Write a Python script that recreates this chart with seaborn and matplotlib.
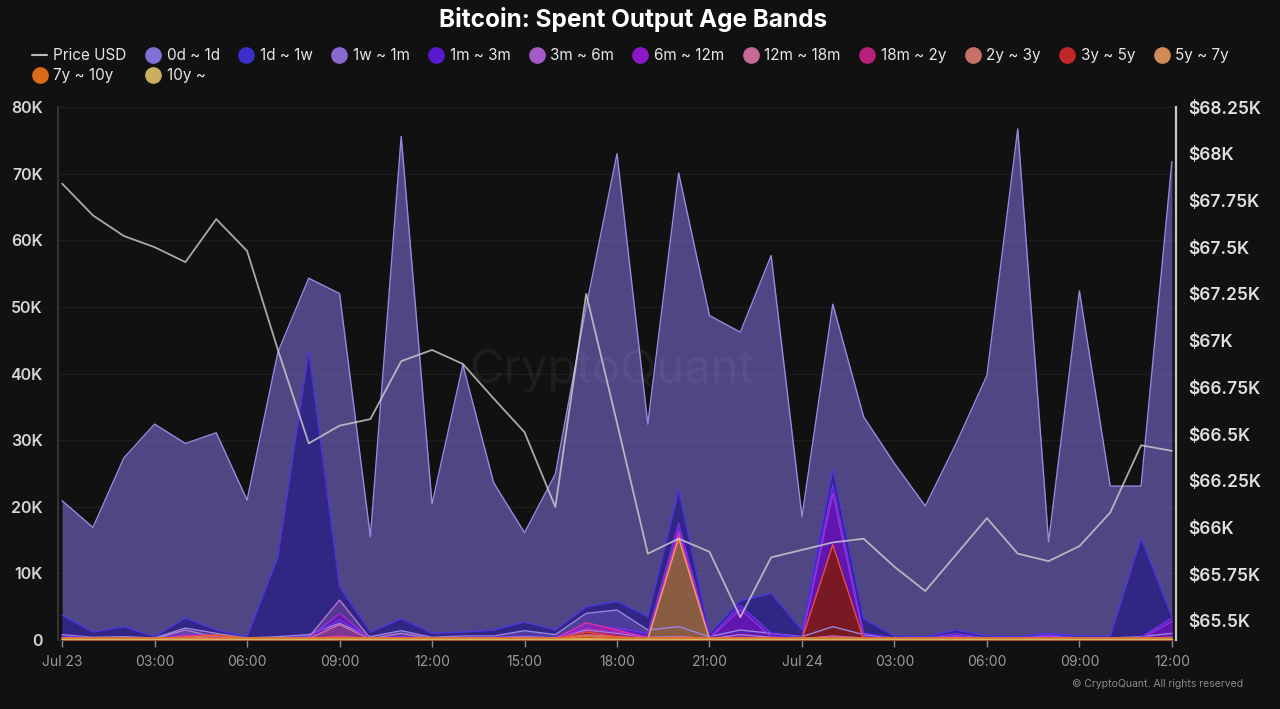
import pandas as pd
import matplotlib
matplotlib.use("Agg")
import matplotlib.pyplot as plt
from matplotlib.lines import Line2D
from matplotlib.ticker import FuncFormatter
import seaborn as sns

sns.set_theme(style="dark")
plt.rcParams['font.family'] = ['Inter', 'DejaVu Sans']

# hourly timestamps Jul 23 00:00 -> Jul 24 12:00
hours = pd.date_range("2024-07-23 00:00", periods=37, freq="h")

price_usd = [67840, 67670, 67560, 67500, 67420, 67650, 67480, 66950, 66450, 66545,
             66580, 66890, 66950, 66875, 66690, 66510, 66110, 67250, 66560, 65860,
             65940, 65870, 65520, 65840, 65880, 65920, 65940, 65790, 65660, 65855,
             66050, 65860, 65820, 65900, 66080, 66440, 66410]

# spent output per age band (thousand BTC)
band_0d_1d = [20.9, 16.9, 27.3, 32.4, 29.5, 31.1, 21.0, 43.2, 54.3, 52.0,
              15.5, 75.6, 20.4, 41.3, 23.6, 16.1, 24.9, 50.0, 73.0, 32.4,
              70.1, 48.7, 46.2, 57.7, 18.5, 50.4, 33.5, 26.5, 20.1, 29.5,
              39.7, 76.7, 14.7, 52.4, 23.1, 23.1, 71.8]
band_1d_1w = [3.7, 1.2, 2.0, 0.5, 3.3, 1.5, 0.5, 12.5, 43.4, 8.0,
              1.2, 3.2, 1.0, 1.2, 1.5, 2.7, 1.5, 5.0, 5.8, 3.5,
              22.5, 1.0, 5.9, 7.0, 1.5, 25.7, 3.2, 0.6, 0.5, 1.5,
              0.6, 0.5, 1.0, 0.6, 0.6, 15.3, 3.5]
band_1w_1m = [0.8, 0.4, 0.5, 0.3, 1.8, 1.0, 0.3, 0.5, 0.8, 2.5,
              0.5, 1.4, 0.4, 0.6, 0.6, 1.4, 0.8, 4.0, 4.5, 1.5,
              2.0, 0.5, 1.5, 1.0, 0.5, 2.0, 0.8, 0.3, 0.3, 0.6,
              0.3, 0.3, 0.6, 0.3, 0.3, 0.5, 1.0]
band_1m_3m = [0.6, 0.3, 0.3, 0.2, 0.8, 0.6, 0.2, 0.3, 0.5, 3.0,
              0.3, 0.5, 0.3, 0.4, 0.4, 0.6, 0.4, 2.2, 1.8, 1.0,
              17.5, 0.4, 5.2, 1.0, 0.4, 23.3, 1.0, 0.3, 0.3, 1.0,
              0.3, 0.3, 0.8, 0.3, 0.3, 0.4, 3.3]
band_3m_6m = [0.3, 0.2, 0.2, 0.2, 1.5, 0.4, 0.2, 0.3, 0.4, 6.0,
              0.2, 1.0, 0.2, 0.3, 0.3, 0.5, 0.3, 1.5, 1.0, 0.4,
              0.5, 0.2, 0.8, 0.4, 0.2, 0.6, 0.3, 0.2, 0.2, 0.3,
              0.2, 0.2, 0.3, 0.2, 0.2, 0.2, 0.4]
band_6m_12m = [0.2, 0.2, 0.2, 0.1, 0.8, 0.4, 0.1, 0.2, 0.3, 4.0,
               0.2, 0.4, 0.2, 0.2, 0.2, 0.3, 0.2, 1.8, 1.2, 0.5,
               16.5, 0.2, 4.6, 0.5, 0.2, 22.0, 0.5, 0.2, 0.2, 0.6,
               0.2, 0.2, 0.5, 0.2, 0.2, 0.2, 2.8]
band_12m_18m = [0.2, 0.1, 0.1, 0.1, 0.5, 0.3, 0.1, 0.1, 0.2, 2.3,
                0.1, 0.3, 0.1, 0.2, 0.2, 0.2, 0.1, 0.8, 0.5, 0.2,
                0.4, 0.1, 0.3, 0.2, 0.1, 0.4, 0.2, 0.1, 0.1, 0.2,
                0.1, 0.1, 0.2, 0.1, 0.1, 0.1, 0.3]
band_18m_2y = [0.2, 0.2, 0.2, 0.1, 0.6, 0.8, 0.2, 0.2, 0.2, 0.6,
               0.2, 0.3, 0.2, 0.2, 0.2, 0.2, 0.2, 2.6, 1.5, 0.3,
               16.0, 0.2, 0.4, 0.2, 0.2, 0.5, 0.2, 0.2, 0.2, 0.3,
               0.2, 0.2, 0.3, 0.2, 0.2, 0.2, 0.4]
band_2y_3y = [0.3, 0.3, 0.3, 0.3, 0.3, 0.4, 0.3, 0.3, 0.3, 0.4,
              0.3, 0.3, 0.3, 0.3, 0.3, 0.3, 0.3, 0.6, 0.4, 0.3,
              0.4, 0.3, 0.3, 0.3, 0.3, 0.4, 0.3, 0.3, 0.3, 0.3,
              0.3, 0.3, 0.3, 0.3, 0.3, 0.3, 0.3]
band_3y_5y = [0.1, 0.1, 0.1, 0.1, 0.1, 0.3, 0.1, 0.1, 0.1, 0.2,
              0.1, 0.1, 0.1, 0.1, 0.1, 0.1, 0.1, 1.2, 0.5, 0.1,
              0.2, 0.1, 0.1, 0.1, 0.1, 14.3, 0.1, 0.1, 0.1, 0.1,
              0.1, 0.1, 0.1, 0.1, 0.1, 0.1, 0.1]
band_5y_7y = [0.1, 0.1, 0.1, 0.1, 0.1, 0.1, 0.1, 0.1, 0.1, 0.1,
              0.1, 0.1, 0.1, 0.1, 0.1, 0.1, 0.1, 0.2, 0.1, 0.1,
              15.3, 0.1, 0.1, 0.1, 0.1, 0.1, 0.1, 0.1, 0.1, 0.1,
              0.1, 0.1, 0.1, 0.1, 0.1, 0.1, 0.1]
band_7y_10y = [0.3, 0.3, 0.3, 0.3, 0.4, 0.7, 0.3, 0.3, 0.3, 0.3,
               0.3, 0.3, 0.3, 0.3, 0.3, 0.3, 0.3, 0.5, 0.3, 0.3,
               0.3, 0.3, 0.3, 0.3, 0.3, 0.3, 0.3, 0.3, 0.3, 0.3,
               0.3, 0.3, 0.3, 0.3, 0.3, 0.3, 0.3]
band_10y = [0.1, 0.1, 0.1, 0.1, 0.1, 0.1, 0.1, 0.1, 0.1, 0.1,
            0.1, 0.1, 0.1, 0.1, 0.1, 0.1, 0.1, 0.1, 0.1, 0.1,
            0.1, 0.1, 0.1, 0.1, 0.1, 0.1, 0.1, 0.1, 0.1, 0.1,
            0.1, 0.1, 0.1, 0.1, 0.1, 0.1, 0.1]

band_labels = ["0d ~ 1d", "1d ~ 1w", "1w ~ 1m", "1m ~ 3m", "3m ~ 6m", "6m ~ 12m",
               "12m ~ 18m", "18m ~ 2y", "2y ~ 3y", "3y ~ 5y", "5y ~ 7y",
               "7y ~ 10y", "10y ~"]
band_values = [band_0d_1d, band_1d_1w, band_1w_1m, band_1m_3m, band_3m_6m,
               band_6m_12m, band_12m_18m, band_18m_2y, band_2y_3y, band_3y_5y,
               band_5y_7y, band_7y_10y, band_10y]

x_tick_labels = ["Jul 23", "03:00", "06:00", "09:00", "12:00", "15:00", "18:00",
                 "21:00", "Jul 24", "03:00", "06:00", "09:00", "12:00"]

# legend colour, edge line colour, fill colour, fill alpha
legend_colors = ["#8070d8", "#3a2fc8", "#8a6ad0", "#5a18d0", "#a55ac8", "#8a18c8",
                 "#c56a9a", "#b8207a", "#c8706a", "#c02828", "#d08a55", "#d86a18",
                 "#c8b060"]
line_colors = ["#958be0", "#4a35e0", "#9a85e0", "#7030f0", "#b07ad0", "#9a30e0",
               "#d070a0", "#e030a0", "#e07a70", "#f04a30", "#f0a060", "#e07020",
               "#d0b860"]
fill_colors = ["#7a6bd0", "#2a1e85", "#6a55b0", "#5a18c8", "#7a4aa0", "#6a14b0",
               "#8a4a80", "#b0207a", "#c8706a", "#7a1a1c", "#8a6040", "#d86a18",
               "#c8b060"]
fill_alpha = [0.6, 0.8, 0.5, 0.7, 0.5, 0.7, 0.6, 0.7, 0.6, 0.95, 0.95, 0.7, 0.6]

BG = "#111111"

long = pd.concat([pd.DataFrame({"time": hours, "band": lab,
                                "value": [v * 1000 for v in vals]})
                  for lab, vals in zip(band_labels, band_values)])

fig = plt.figure(figsize=(12.8, 7.09), dpi=100, facecolor=BG)
ax = fig.add_axes([58 / 1280, 1 - 640 / 709, 1118 / 1280, 533 / 709])
ax.set_facecolor(BG)

for i, lab in enumerate(band_labels):
    sub = long[long["band"] == lab]
    ax.fill_between(sub["time"], 0, sub["value"], color=fill_colors[i],
                    alpha=fill_alpha[i], lw=0, zorder=2 + i)
sns.lineplot(data=long, x="time", y="value", hue="band", palette=line_colors,
             hue_order=band_labels, lw=1.0, legend=False, ax=ax, zorder=20)

pad = pd.Timedelta(minutes=8)
ax.set_xlim(hours[0] - pad, hours[-1] + pad)
ax.set_ylim(0, 80000)
ax.set_yticks(range(0, 80001, 10000))
ax.yaxis.set_major_formatter(FuncFormatter(lambda v, p: "0" if v == 0 else f"{v/1000:.0f}K"))
ax.set_xticks(hours[::3])
ax.set_xticklabels(x_tick_labels)
ax.set_xlabel("")
ax.set_ylabel("")
ax.grid(axis="y", color="#1d1d1f", lw=1)
ax.grid(axis="x", visible=False)
ax.tick_params(axis="y", colors="#d6d6d6", labelsize=11.5, length=0, pad=11)
ax.tick_params(axis="x", colors="#8a8a8a", labelcolor="#9a9a9a", labelsize=10,
               length=5, width=1, direction="out", pad=6, bottom=True)
for t in ax.get_yticklabels():
    t.set_fontweight("semibold")
for side in ["top", "right"]:
    ax.spines[side].set_visible(False)
ax.spines["left"].set_color("#3a3a3a")
ax.spines["bottom"].set_color("#2a2a2a")

# price on right axis
ax2 = ax.twinx()
sns.lineplot(x=hours, y=price_usd, color="#d0d0d0", lw=1.3, alpha=0.8, ax=ax2)
ax2.set_ylim(65398, 68250)
ax2.set_yticks([65500 + 250 * k for k in range(12)])
ax2.yaxis.set_major_formatter(FuncFormatter(lambda v, p: f"${v/1000:g}K"))
ax2.tick_params(axis="y", colors="#e0e0e0", labelsize=12.5, length=0, pad=9)
for t in ax2.get_yticklabels():
    t.set_fontweight("semibold")
ax2.grid(False)
for side in ["top", "left", "bottom"]:
    ax2.spines[side].set_visible(False)
ax2.spines["right"].set_color("#c8c8c8")
ax2.spines["right"].set_linewidth(1.6)
ax2.set_xlim(hours[0] - pad, hours[-1] + pad)

# watermark
ax2.text(0.495, 0.505, "CryptoQuant", transform=ax.transAxes, fontsize=34,
         color="white", alpha=0.05, ha="center", va="center", zorder=50)

fig.text(633 / 1280, 1 - 20 / 709, "Bitcoin: Spent Output Age Bands", ha="center",
         va="center", color="white", fontsize=17.5, fontweight="bold")
fig.text(1243 / 1280, 1 - 684 / 709, "© CryptoQuant. All rights reserved", ha="right",
         va="center", color="#8a8a8a", fontsize=7.5)

# legend: row 1 = price + 11 bands, row 2 = last two bands
handles = [Line2D([0], [0], color="#bbbbbb", lw=1.5)]
handles += [Line2D([0], [0], marker="o", ls="", markersize=11, markerfacecolor=c,
                   markeredgecolor=c) for c in legend_colors]
labels = ["Price USD"] + band_labels
order = [0, 12, 1, 13] + list(range(2, 12))
leg = fig.legend([handles[k] for k in order], [labels[k] for k in order],
                 loc="upper left", bbox_to_anchor=(32 / 1280, 1 - 48 / 709), ncol=12,
                 frameon=False, fontsize=11, labelcolor="#e6e6e6", handlelength=1.0,
                 handletextpad=0.4, columnspacing=1.22, labelspacing=0.35,
                 borderaxespad=0, borderpad=0)

fig.savefig("out.png", dpi=100, facecolor=BG)
